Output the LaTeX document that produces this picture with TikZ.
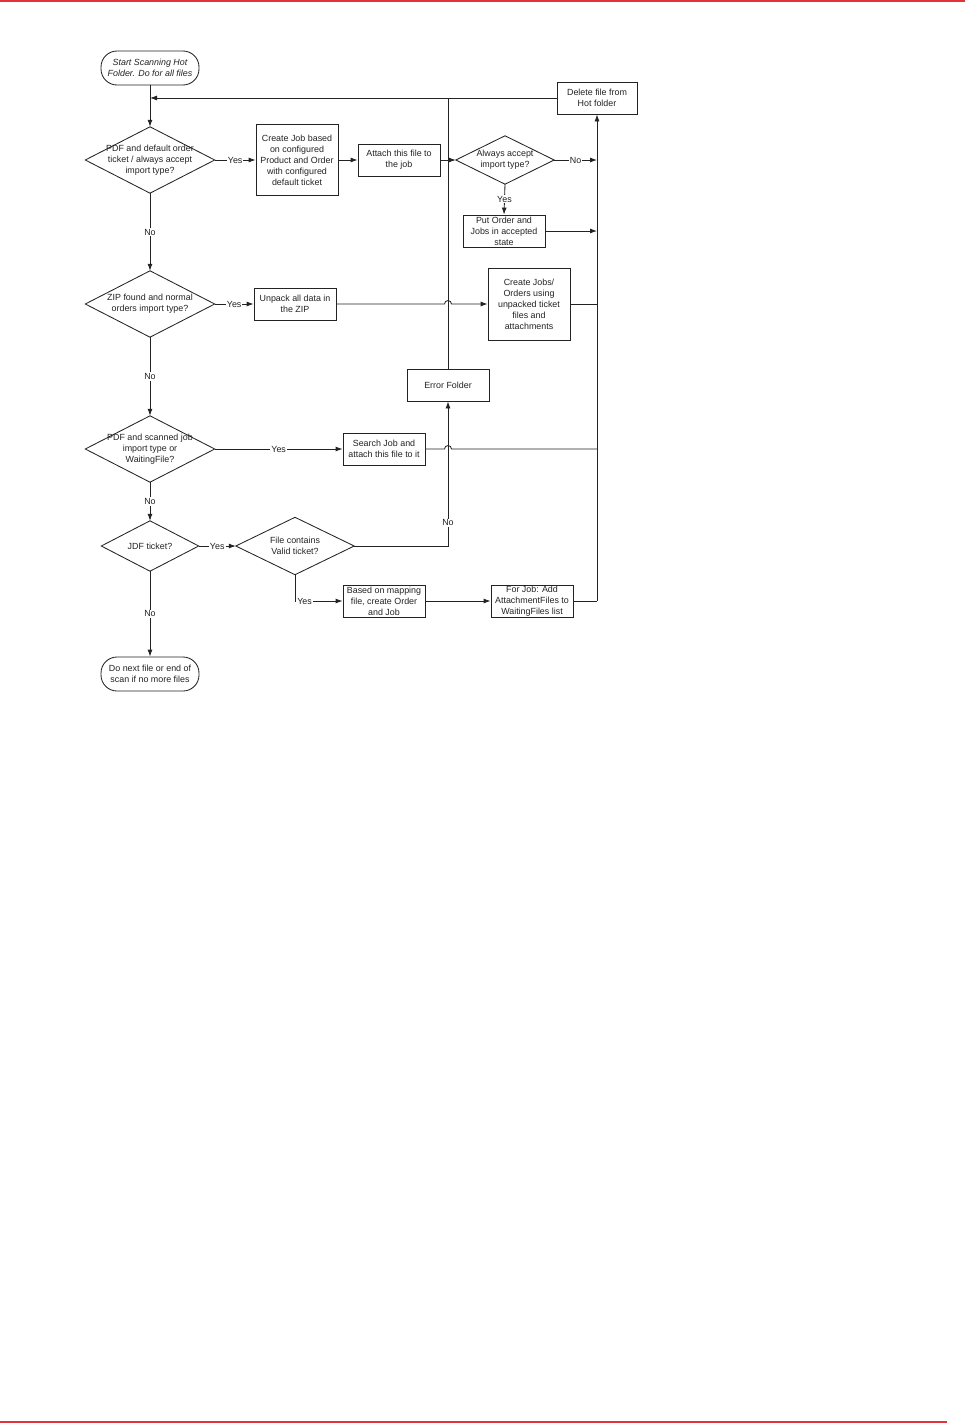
\documentclass[tikz,border=0pt]{standalone}
\usepackage{fontspec}
\setmainfont{Liberation Sans}
\usetikzlibrary{arrows.meta}
\definecolor{redline}{RGB}{222,52,58}
\definecolor{ink}{RGB}{35,35,35}
\begin{document}
\begin{tikzpicture}[x=1pt,y=-1pt,
  every node/.style={font=\fontsize{8.9}{11}\selectfont, text=ink},
  line/.style={draw=ink, line width=0.85pt},
  arr/.style={line, -{Latex[length=7pt,width=5pt]}},
  box/.style={line, rectangle, inner sep=0pt, align=center},
  term/.style={line, rectangle, rounded corners=16pt, inner sep=0pt, align=center, minimum width=98pt, minimum height=34pt},
  dia/.style={rectangle, inner sep=0pt, align=center},
  lab/.style={fill=white, inner sep=1pt}
]
\useasboundingbox (0,0) rectangle (965,1424);
\draw[redline, line width=1.6pt] (0,0.8) -- (965,0.8);
\draw[redline, line width=1.6pt] (0,1422) -- (947,1422);

% nodes
\node[term, font=\fontsize{8.9}{11}\selectfont\itshape] (start) at (150,68) {Start Scanning Hot\\Folder. Do for all files};
\node[dia, minimum width=129pt, minimum height=66pt] (d1) at (150,160) {PDF and default order\\ticket / always accept\\import type?};
\node[box, minimum width=82pt, minimum height=71pt] (b1) at (297,160) {Create Job based\\on configured\\Product and Order\\with configured\\default ticket};
\node[box, minimum width=82pt, minimum height=32pt] (b2) at (399,160) {Attach this file to\\the job};
\node[dia, minimum width=98pt, minimum height=48pt] (d2) at (505,160) {Always accept\\import type?};
\node[box, minimum width=82pt, minimum height=32pt] (b3) at (504,231) {Put Order and\\Jobs in accepted\\state};
\node[box, minimum width=80pt, minimum height=32pt] (del) at (597,98) {Delete file from\\Hot folder};
\node[dia, minimum width=129pt, minimum height=66pt] (d3) at (150,304) {ZIP found and normal\\orders import type?};
\node[box, minimum width=82pt, minimum height=32pt] (b4) at (295,304) {Unpack all data in\\the ZIP};
\node[box, minimum width=82pt, minimum height=72pt] (b5) at (529,304) {Create Jobs/\\Orders using\\unpacked ticket\\files and\\attachments};
\node[box, minimum width=82pt, minimum height=32pt] (err) at (448,385) {Error Folder};
\node[dia, minimum width=129pt, minimum height=66pt] (d4) at (150,449) {PDF and scanned job\\import type or\\WaitingFile?};
\node[box, minimum width=82pt, minimum height=32pt] (b6) at (384,449) {Search Job and\\attach this file to it};
\node[dia, minimum width=97pt, minimum height=50pt] (d5) at (150,546) {JDF ticket?};
\node[dia, minimum width=118pt, minimum height=57pt] (d6) at (295,546) {File contains\\Valid ticket?};
\node[box, minimum width=82pt, minimum height=32pt] (b7) at (384,601) {Based on mapping\\file, create Order\\and Job};
\node[box, minimum width=82pt, minimum height=32pt] (b8) at (532,601) {For Job: Add\\AttachmentFiles to\\WaitingFiles list};
\node[term] (end) at (150,674) {Do next file or end of\\scan if no more files};

\foreach \n in {d1,d2,d3,d4,d5,d6}
  \draw[line] (\n.north) -- (\n.east) -- (\n.south) -- (\n.west) -- cycle;

\coordinate (jl) at (start.south |- del.west);
\coordinate (bus) at (del.south |- b8.east);

% main spine
\draw[arr] (start) -- (d1.north);
\draw[arr] (del.west) -- (jl);
\draw[line] (err.north) -- (err.north |- del.west);
\draw[arr] (d1.south) -- node[lab]{No} (d3.north);
\draw[arr] (d3.south) -- node[lab]{No} (d4.north);
\draw[arr] (d4.south) -- node[lab]{No} (d5.north);
\draw[arr] (d5.south) -- node[lab]{No} (end.north);

% row 1
\draw[arr] (d1.east) -- node[lab]{Yes} (b1.west);
\draw[arr] (b1.east) -- (b2.west);
\draw[arr] (b2.east) -- (d2.west);
\draw[arr] (d2.east) -- node[lab]{No} (d2.east -| del.south);
\draw[arr] (d2.south) -- node[lab]{Yes} (b3.north);
\draw[arr] (b3.east) -- (b3.east -| del.south);

% row 2
\draw[arr] (d3.east) -- node[lab]{Yes} (b4.west);
\draw[arr] (b4.east) -- (444.5,304) arc[start angle=180,end angle=0,radius=3.5pt] -- (b5.west);
\draw[line] (b5.east) -- (b5.east -| del.south);

% row 3
\draw[arr] (d4.east) -- node[lab]{Yes} (b6.west);
\draw[line] (b6.east) -- (444.5,449) arc[start angle=180,end angle=0,radius=3.5pt] -- (b6.east -| del.south);

% row 4
\draw[arr] (d5.east) -- node[lab]{Yes} (d6.west);
\draw[arr] (d6.east) -| node[pos=0.58,lab]{No} (err.south);
\draw[arr] (d6.south) |- node[pos=0.6,lab]{Yes} (b7.west);
\draw[arr] (b7.east) -- (b8.west);
\draw[line] (b8.east) -- (bus);
\draw[arr] (bus) -- (del.south);
\end{tikzpicture}
\end{document}
